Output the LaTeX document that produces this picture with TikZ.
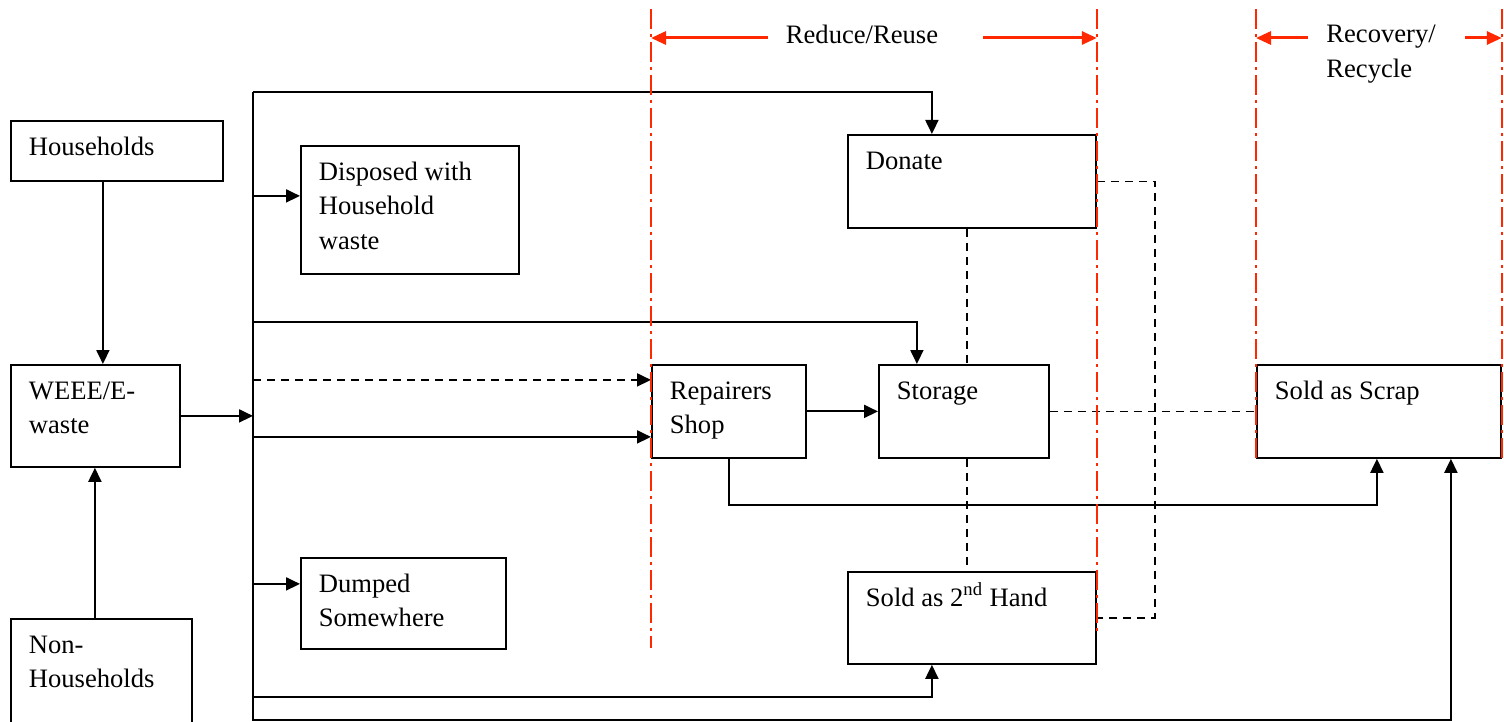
\documentclass[tikz,border=0pt]{standalone}
\usepackage{fontspec}
\setmainfont{Liberation Serif}
\usetikzlibrary{positioning,arrows.meta,calc}
\definecolor{guidered}{RGB}{255,40,0}
% text set in the top left corner of a box of fixed size
\newcommand{\boxtext}[3]{\parbox[t][#2][t]{#1}{\raggedright\strut #3}}

\begin{document}
\begin{tikzpicture}[x=0.5pt, y=-0.5pt, font=\fontsize{13.3}{17.3}\selectfont,
    box/.style={draw, line width=0.9pt, anchor=north west, inner xsep=9pt, inner ysep=5pt},
    link/.style={line width=0.95pt},
    arr/.style={line width=0.95pt, -{Triangle[length=7pt,width=6.5pt]}},
    dsh/.style={line width=0.9pt, dash pattern=on 4pt off 3pt},
    guide/.style={guidered, line width=0.9pt, dash pattern=on 10pt off 2.5pt on 1.5pt off 2.5pt},
    span/.style={guidered, line width=1.5pt, -{Triangle[length=7.5pt,width=6.5pt]}}]
    \useasboundingbox (0,0) rectangle (1504,722);

    % sources
    \node [box] (hh) at (10,120) {\boxtext{88pt}{20pt}{Households}};
    \node [box] (weee) at (10,364) {\boxtext{66.5pt}{41pt}{WEEE/E-\\waste}};
    \node [box] (nonhh) at (10,618) {\boxtext{72.5pt}{46pt}{Non-\\Households}};

    % where it ends up
    \node [box] (disp) at (300,145) {\boxtext{91pt}{54pt}{Disposed with\\Household\\waste}};
    \node [box] (dump) at (300,557) {\boxtext{84.5pt}{35.5pt}{Dumped\\Somewhere}};
    \node [box] (donate) at (847,134) {\boxtext{106pt}{36.5pt}{Donate}};
    \node [box] (repair) at (651,364) {\boxtext{59pt}{36.5pt}{Repairers\\Shop}};
    \node [box] (storage) at (878,364) {\boxtext{67pt}{36.5pt}{Storage}};
    \node [box] (second) at (847,571) {\boxtext{106pt}{36pt}{Sold as 2\textsuperscript{nd} Hand}};
    \node [box] (scrap) at (1256,364) {\boxtext{104pt}{36.5pt}{Sold as Scrap}};

    % into the e-waste box
    \draw[arr] ([xshift=-7pt]hh.south) -- ([xshift=-7pt]hh.south |- weee.north);
    \draw[arr] ([xshift=-3.25pt]nonhh.north) -- ([xshift=-3.25pt]nonhh.north |- weee.south);

    % trunk and its branches
    \coordinate (top) at (253,92);
    \coordinate (bot) at (253,721);
    \draw[link] (top) -- (bot);
    \draw[arr] (weee.east) -- (weee.east -| top);
    \draw[arr] (top) -| ([xshift=-20pt]donate.north);
    \coordinate (d1) at ([yshift=7pt]disp.west);
    \draw[arr] (d1 -| top) -- (d1);
    \draw[arr] (top) ++(0,230) -| ([xshift=-23.5pt]storage.north);
    \coordinate (p1) at ([yshift=15.75pt]repair.west);
    \coordinate (p2) at ([yshift=-12.75pt]repair.west);
    \draw[arr, dsh] (p1 -| top) -- (p1);
    \draw[arr] (p2 -| top) -- (p2);
    \coordinate (m1) at ([yshift=9.75pt]dump.west);
    \draw[arr] (m1 -| top) -- (m1);
    \draw[arr] (bot) ++(0,-24) -| ([xshift=-20pt]second.south);
    \draw[arr] (bot) ++(0,-1) -| ([xshift=36pt]scrap.south);

    % repairers shop
    \draw[arr] (repair) -- (storage);
    \draw[arr] (repair.south) -- ++(0,46) -| ([xshift=-1pt]scrap.south);

    % dashed links
    \draw[dsh] ([xshift=-2.5pt]donate.south) -- ([xshift=-2.5pt]donate.south |- storage.north);
    \draw[dsh] ([xshift=-2.5pt]donate.south |- storage.south) -- ([xshift=-2.5pt]donate.south |- second.north);
    \draw[dsh] (storage) -- (scrap);
    \draw[dsh] (donate.east) -- ++(58,0) |- (second.east);

    % stages
    \coordinate (gtop) at (0,9);
    \coordinate (gbot1) at (0,648);
    \coordinate (gbot2) at (0,632);
    \draw[guide] (repair.west |- gtop) -- (repair.west |- gbot1);
    \draw[guide] (donate.east |- gtop) -- (donate.east |- gbot2);
    \draw[guide] (scrap.west |- gtop) -- (scrap.south west);
    \draw[guide] (scrap.east |- gtop) -- (scrap.south east);

    \node (reduce) at (862,34) {Reduce/Reuse};
    \coordinate (rl) at (768,38);
    \coordinate (rr) at (983,38);
    \draw[span] (rl) -- (rl -| repair.west);
    \draw[span] (rr) -- (rr -| donate.east);

    \node [anchor=north west, inner sep=0pt, align=left] (recover) at (1326,25) {Recovery/\\Recycle};
    \coordinate (cl) at (1308,38);
    \coordinate (cr) at (1465,38);
    \draw[span] (cl) -- (cl -| scrap.west);
    \draw[span] (cr) -- (cr -| scrap.east);
\end{tikzpicture}
\end{document}
